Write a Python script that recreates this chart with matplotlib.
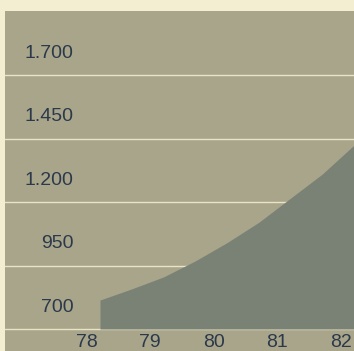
import matplotlib.pyplot as plt

# data
years = [78, 78.5, 79, 79.5, 80, 80.5, 81, 81.5, 82]
values = [814, 858, 905, 968, 1040, 1120, 1215, 1310, 1424]
y_ticks = [700, 950, 1200, 1450, 1700]
y_labels = ["700", "950", "1.200", "1.450", "1.700"]
x_ticks = [78, 79, 80, 81, 82]
x_labels = ["78", "79", "80", "81", "82"]

bg = "#f3edd2"
panel = "#a8a58b"
area = "#7a8276"
grid = "#e9e4c6"
txt = "#2b394a"

fig = plt.figure(figsize=(3.54, 3.51), dpi=100, facecolor=bg)
ax = fig.add_axes([5 / 354, 0, 349 / 354, 340 / 351])
ax.set_facecolor(panel)
ax.set_xlim(76.504, 82)
ax.set_ylim(613.4, 1952)

for v in y_ticks:
    ax.axhline(v, color=grid, lw=1.0, zorder=1)

ax.fill_between(years, 700, values, color=area, lw=0, zorder=2)

for v, lab in zip(y_ticks, y_labels):
    ax.text(77.58, v + 85, lab, ha="right", va="center", fontsize=14,
            family="Liberation Sans", color=txt)

for x, lab in zip(x_ticks, x_labels):
    ax.text(x - 0.21, 700 - 20, lab, ha="center", va="top", fontsize=14,
            family="Liberation Sans", color=txt, zorder=3)

# keep the panel colour but hide ticks and frame
ax.set_xticks([])
ax.set_yticks([])
for s in ax.spines.values():
    s.set_visible(False)

fig.savefig("out.png", dpi=100, facecolor=bg)
